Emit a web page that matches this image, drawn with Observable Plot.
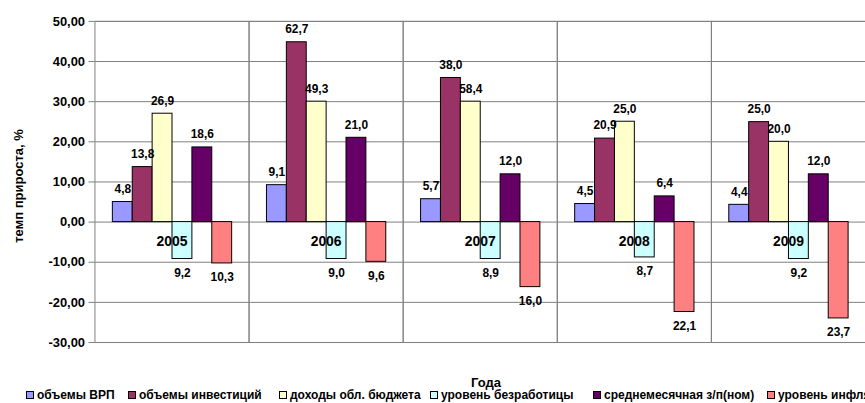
<!DOCTYPE html>
<html>
<head>
<meta charset="utf-8">
<script src="https://cdn.jsdelivr.net/npm/d3@7"></script>
<script src="https://cdn.jsdelivr.net/npm/@observablehq/plot@0.6"></script>
<style>
  html, body { margin: 0; padding: 0; overflow: hidden; background: #fff; }
  #wrap { position: relative; width: 865px; height: 403px; overflow: hidden; font-family: "Liberation Sans", Arial, sans-serif; font-weight: bold; color: #000; }
  #chart svg text { font-weight: bold; }
  .ytitle { position: absolute; left: 18px; top: 186px; transform: translate(-50%, -50%) rotate(-90deg); font-size: 13px; white-space: nowrap; }
  .xtitle { position: absolute; left: 486px; top: 382px; transform: translate(-50%, -50%); font-size: 13px; }
  .leg { position: absolute; top: 395px; transform: translateY(-50%); display: flex; align-items: center; font-size: 12px; white-space: nowrap; }
  .sw { width: 6px; height: 6px; border: 1px solid #000; margin-right: 3px; }
</style>
</head>
<body>
<div id="wrap">
  <div id="chart"></div>
  <div class="ytitle">темп прироста, %</div>
  <div class="xtitle">Года</div>
  <div id="legend"></div>
</div>
<script>
const years = ["2005", "2006", "2007", "2008", "2009"];
const seriesNames = ["объемы ВРП", "объемы инвестиций", "доходы обл. бюджета", "уровень безработицы", "среднемесячная з/п(ном)", "уровень инфляции"];
const seriesColors = ["#9999FF", "#993366", "#FFFFCC", "#CCFFFF", "#660066", "#FF8080"];

// bar heights as drawn (percent)
const vrpValues      = [5.0, 9.2, 5.7, 4.5, 4.3];
const investValues   = [13.7, 44.8, 35.9, 20.8, 24.9];
const budgetValues   = [27.0, 30.0, 30.0, 25.0, 20.0];
const unemplValues   = [-9.2, -9.2, -9.2, -8.8, -9.2];
const wageValues     = [18.6, 21.0, 11.9, 6.4, 11.9];
const inflValues     = [-10.3, -9.9, -16.2, -22.4, -24.0];

// data labels as printed
const vrpLabels    = ["4,8", "9,1", "5,7", "4,5", "4,4"];
const investLabels = ["13,8", "62,7", "38,0", "20,9", "25,0"];
const budgetLabels = ["26,9", "49,3", "58,4", "25,0", "20,0"];
const unemplLabels = ["9,2", "9,0", "8,9", "8,7", "9,2"];
const wageLabels   = ["18,6", "21,0", "12,0", "6,4", "12,0"];
const inflLabels   = ["10,3", "9,6", "16,0", "22,1", "23,7"];

const yTicks = [-30, -20, -10, 0, 10, 20, 30, 40, 50];
const legendX = [26, 128, 279, 430, 593, 767];

const allValues = [vrpValues, investValues, budgetValues, unemplValues, wageValues, inflValues];
const allLabels = [vrpLabels, investLabels, budgetLabels, unemplLabels, wageLabels, inflLabels];

const data = [];
years.forEach((yr, i) => {
  seriesNames.forEach((s, j) => {
    data.push({year: yr, series: s, value: allValues[j][i], label: allLabels[j][i]});
  });
});

const fmt = d => d.toFixed(2).replace(".", ",");

const chart = Plot.plot({
  width: 870,
  height: 372,
  marginLeft: 95,
  marginRight: 0,
  marginTop: 21,
  marginBottom: 28,
  style: {fontFamily: "'Liberation Sans', Arial, sans-serif", background: "white", color: "black"},
  fx: {domain: years, padding: 0, axis: null},
  x: {domain: seriesNames, paddingInner: 0, paddingOuter: 0.78, axis: null},
  y: {domain: [-30, 50], axis: null},
  color: {domain: seriesNames, range: seriesColors},
  marks: [
    Plot.gridY(yTicks, {stroke: "#808080", strokeOpacity: 1}),
    Plot.frame({stroke: "#808080"}),
    Plot.axisY(yTicks, {tickFormat: fmt, tickSize: 6, tickPadding: 4, fontSize: 13, fontWeight: "bold", label: null, stroke: "#808080"}),
    Plot.barY(data, {fx: "year", x: "series", y: "value", fill: "series", stroke: "black", strokeWidth: 1}),
    Plot.text(years, {fx: d => d, y: () => 0, text: d => d, dy: 20, fontSize: 14, fontWeight: "bold", fill: "black"}),
    Plot.text(data.filter(d => d.value >= 0), {fx: "year", x: "series", y: "value", text: "label", dy: -13, fontSize: 12, fontWeight: "bold", fill: "black"}),
    Plot.text(data.filter(d => d.value < 0), {fx: "year", x: "series", y: "value", text: "label", dy: 14, fontSize: 12, fontWeight: "bold", fill: "black"})
  ]
});
document.getElementById("chart").appendChild(chart);

const legend = document.getElementById("legend");
seriesNames.forEach((s, j) => {
  const item = document.createElement("div");
  item.className = "leg";
  item.style.left = legendX[j] + "px";
  const sw = document.createElement("div");
  sw.className = "sw";
  sw.style.background = seriesColors[j];
  const t = document.createElement("span");
  t.textContent = s;
  item.appendChild(sw);
  item.appendChild(t);
  legend.appendChild(item);
});
</script>
</body>
</html>
